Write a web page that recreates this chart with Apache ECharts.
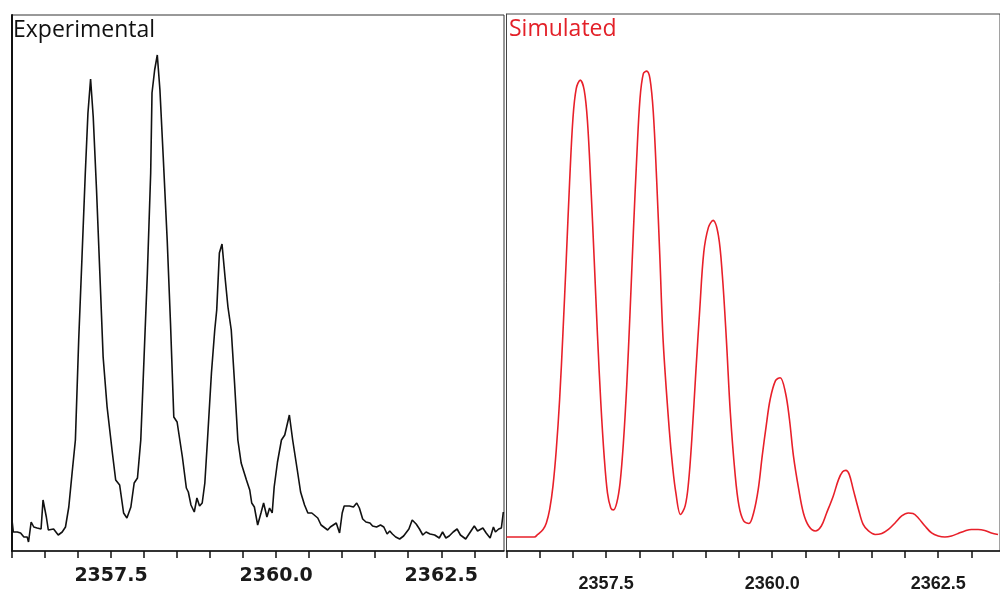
<!DOCTYPE html>
<html>
<head>
<meta charset="utf-8">
<script src="https://cdn.jsdelivr.net/npm/echarts@6/dist/echarts.min.js"></script>
<style>
  html, body { margin: 0; padding: 0; background: #fff; }
  #main { width: 1000px; height: 594px; }
</style>
</head>
<body>
<div id="main"></div>
<script>
// m/z values (left panel: experimental)
var expMz = [2356.00, 2356.02, 2356.08, 2356.13, 2356.18, 2356.23, 2356.25, 2356.29, 2356.33, 2356.38,
  2356.44, 2356.47, 2356.52, 2356.55, 2356.63, 2356.70, 2356.76, 2356.81, 2356.86, 2356.91,
  2356.96, 2357.01, 2357.06, 2357.11, 2357.15, 2357.19, 2357.23, 2357.28, 2357.33, 2357.38,
  2357.44, 2357.52, 2357.57, 2357.63, 2357.69, 2357.74, 2357.80, 2357.85, 2357.90, 2357.95,
  2358.00, 2358.05, 2358.10, 2358.12, 2358.16, 2358.20, 2358.24, 2358.29, 2358.35, 2358.40,
  2358.45, 2358.50, 2358.58, 2358.64, 2358.67, 2358.71, 2358.76, 2358.80, 2358.84, 2358.88,
  2358.92, 2358.96, 2359.02, 2359.07, 2359.10, 2359.14, 2359.18, 2359.23, 2359.27, 2359.32,
  2359.37, 2359.42, 2359.47, 2359.55, 2359.60, 2359.63, 2359.67, 2359.72, 2359.77, 2359.81,
  2359.86, 2359.90, 2359.94, 2359.97, 2360.02, 2360.08, 2360.13, 2360.20, 2360.25, 2360.32,
  2360.37, 2360.43, 2360.48, 2360.54, 2360.63, 2360.68, 2360.78, 2360.82, 2360.91, 2360.96,
  2361.00, 2361.03, 2361.11, 2361.17, 2361.22, 2361.26, 2361.31, 2361.36, 2361.42, 2361.46,
  2361.52, 2361.58, 2361.63, 2361.68, 2361.72, 2361.76, 2361.81, 2361.87, 2361.93, 2361.96,
  2362.01, 2362.06, 2362.12, 2362.17, 2362.22, 2362.27, 2362.33, 2362.40, 2362.47, 2362.52,
  2362.57, 2362.62, 2362.68, 2362.74, 2362.79, 2362.87, 2362.93, 2363.00, 2363.05, 2363.13,
  2363.18, 2363.24, 2363.29, 2363.32, 2363.37, 2363.41, 2363.44];
var expInt = [31, 19, 19, 18, 14, 14, 9, 29, 24, 23,
  22, 51, 34, 21, 22, 16, 19, 24, 44, 78,
  111, 211, 294, 378, 438, 472, 434, 361, 278, 194,
  144, 98, 71, 66, 38, 33, 44, 68, 73, 111,
  194, 278, 378, 458, 481, 496, 461, 394, 311, 228,
  134, 129, 94, 63, 59, 46, 39, 53, 45, 48,
  68, 111, 178, 221, 241, 298, 307, 271, 244, 221,
  168, 111, 88, 71, 61, 48, 44, 26, 38, 48,
  34, 43, 38, 64, 89, 111, 116, 136, 111, 81,
  59, 46, 38, 38, 33, 26, 21, 24, 28, 18,
  38, 45, 45, 44, 48, 43, 32, 29, 28, 25,
  24, 26, 24, 17, 20, 17, 14, 12, 15, 13,
  22, 31, 27, 22, 16, 19, 17, 16, 13, 19,
  13, 15, 19, 22, 16, 12, 18, 25, 20, 23,
  18, 13, 24, 19, 22, 23, 39];

// right panel: simulated isotope pattern
var simMz = [2356.00, 2356.42, 2356.47, 2356.55, 2356.60, 2356.65, 2356.70, 2356.75, 2356.80, 2356.85,
  2356.90, 2356.95, 2357.00, 2357.05, 2357.11, 2357.17, 2357.22, 2357.27, 2357.32, 2357.37,
  2357.42, 2357.47, 2357.52, 2357.57, 2357.61, 2357.66, 2357.71, 2357.76, 2357.81, 2357.86,
  2357.91, 2357.96, 2358.01, 2358.06, 2358.11, 2358.16, 2358.21, 2358.26, 2358.31, 2358.36,
  2358.45, 2358.50, 2358.55, 2358.62, 2358.69, 2358.74, 2358.79, 2358.85, 2358.91, 2358.97,
  2359.04, 2359.11, 2359.19, 2359.25, 2359.31, 2359.37, 2359.44, 2359.50, 2359.57, 2359.65,
  2359.72, 2359.79, 2359.85, 2359.91, 2359.97, 2360.05, 2360.12, 2360.20, 2360.26, 2360.32,
  2360.40, 2360.47, 2360.55, 2360.65, 2360.74, 2360.82, 2360.92, 2361.00, 2361.06, 2361.11,
  2361.16, 2361.22, 2361.30, 2361.37, 2361.45, 2361.55, 2361.65, 2361.75, 2361.85, 2361.95,
  2362.05, 2362.12, 2362.20, 2362.30, 2362.40, 2362.50, 2362.60, 2362.70, 2362.80, 2362.90,
  2363.00, 2363.10, 2363.20, 2363.30, 2363.40];
var simInt = [14, 14, 16.5, 21.5, 28, 41.5, 65, 101.5, 151.5, 218,
  291.5, 368, 431.5, 461.5, 470, 460, 428, 365, 291.5, 215,
  148, 95, 58, 43, 41, 48, 68, 108, 165, 238,
  318, 391.5, 451.5, 476.5, 479, 471.5, 438, 371.5, 291.5, 208,
  121.5, 85, 58, 36.5, 45, 68, 111.5, 178, 241.5, 298,
  323, 330, 315, 275, 211.5, 138, 78, 45, 30, 27.5,
  38, 61.5, 95, 125, 151.5, 170, 173, 158, 131.5, 95,
  61.5, 38, 25, 20, 25, 38, 55, 71.5, 79, 80.5,
  76.5, 61.5, 41.5, 26.5, 20, 16.5, 17.5, 21.5, 28, 35,
  38, 37.5, 33, 25, 18, 15, 14, 15, 17.5, 20,
  21.5, 21.5, 20.5, 18, 16.5];

var panelTitles = ['Experimental', 'Simulated'];

function zip(a, b) {
  var out = [];
  for (var i = 0; i < a.length; i++) out.push([a[i], b[i]]);
  return out;
}

function tickLabel(v) {
  var k = (v - 2357.5) / 2.5;
  if (Math.abs(k - Math.round(k)) < 1e-6) return v.toFixed(1);
  return '';
}

var chartDom = document.getElementById('main');
var myChart = echarts.init(chartDom, null, { renderer: 'canvas' });

var option = {
  animation: false,
  backgroundColor: '#fff',
  title: [
    {
      text: panelTitles[0], left: 13, top: 19, padding: 0,
      textStyle: { fontFamily: 'Open Sans', fontSize: 23, fontWeight: 'normal', color: '#111' }
    },
    {
      text: panelTitles[1], left: 509, top: 18, padding: 0,
      textStyle: { fontFamily: 'Open Sans', fontSize: 23, fontWeight: 'normal', color: '#e32028' }
    }
  ],
  grid: [
    { left: 12, right: 496, top: 15, bottom: 43, show: true, borderColor: '#333', borderWidth: 1 },
    { left: 506.5, right: -2, top: 14, bottom: 43, show: true, borderColor: '#444', borderWidth: 1 }
  ],
  xAxis: [
    {
      type: 'value', gridIndex: 0, min: 2356.0, max: 2363.45, interval: 0.5,
      axisLine: { lineStyle: { color: '#111', width: 1.5 } },
      axisTick: { length: 7, lineStyle: { color: '#111', width: 1.5 } },
      splitLine: { show: false },
      axisLabel: {
        margin: 16, formatter: tickLabel, showMinLabel: true, showMaxLabel: false,
        fontFamily: 'DejaVu Sans', fontWeight: 'bold', fontSize: 19, color: '#1a1a1a'
      }
    },
    {
      type: 'value', gridIndex: 1, min: 2356.0, max: 2363.43, interval: 0.5,
      axisLine: { lineStyle: { color: '#111', width: 1.5 } },
      axisTick: { length: 7, lineStyle: { color: '#111', width: 1.5 } },
      splitLine: { show: false },
      axisLabel: {
        margin: 24, formatter: tickLabel, showMinLabel: true, showMaxLabel: false,
        fontFamily: 'Liberation Sans', fontWeight: 'bold', fontSize: 18, color: '#1a1a1a'
      }
    }
  ],
  yAxis: [
    {
      type: 'value', gridIndex: 0, min: 0, max: 536,
      axisLine: { show: true, lineStyle: { color: '#111', width: 2 } },
      axisTick: { show: false }, axisLabel: { show: false }, splitLine: { show: false }
    },
    {
      type: 'value', gridIndex: 1, min: 0, max: 536,
      axisLine: { show: true, lineStyle: { color: '#444', width: 1 } },
      axisTick: { show: false }, axisLabel: { show: false }, splitLine: { show: false }
    }
  ],
  series: [
    {
      name: 'Experimental', type: 'line', xAxisIndex: 0, yAxisIndex: 0,
      symbol: 'none', smooth: false,
      lineStyle: { color: '#111', width: 1.6 },
      data: zip(expMz, expInt)
    },
    {
      name: 'Simulated', type: 'line', xAxisIndex: 1, yAxisIndex: 1,
      symbol: 'none', smooth: 0.35,
      lineStyle: { color: '#e8202a', width: 1.6 },
      data: zip(simMz, simInt)
    }
  ]
};

myChart.setOption(option);
</script>
</body>
</html>
